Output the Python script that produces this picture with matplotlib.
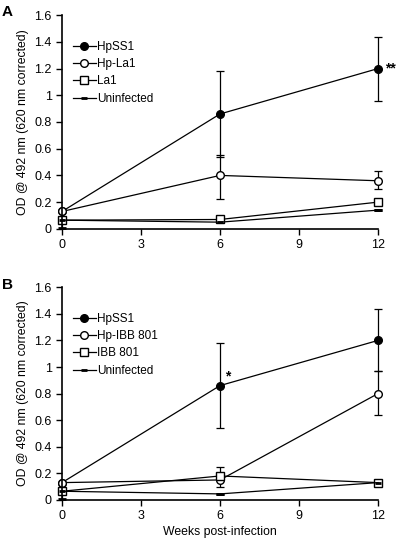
import numpy as np
import matplotlib.pyplot as plt

plt.rcParams['font.family'] = ['Liberation Sans', 'DejaVu Sans']

weeks = [0, 6, 12]

# panel A
a_names = ['HpSS1', 'Hp-La1', 'La1', 'Uninfected']
a_mean = [[0.13, 0.86, 1.20],
          [0.13, 0.40, 0.36],
          [0.065, 0.07, 0.20],
          [0.065, 0.05, 0.14]]
a_lo = [[0.0, 0.32, 0.24],
        [0.0, 0.18, 0.06],
        [0.0, 0.0, 0.02],
        [0.06, 0.0, 0.0]]
a_hi = [[0.0, 0.32, 0.24],
        [0.0, 0.15, 0.07],
        [0.0, 0.0, 0.02],
        [0.0, 0.0, 0.0]]

# panel B
b_names = ['HpSS1', 'Hp-IBB 801', 'IBB 801', 'Uninfected']
b_mean = [[0.13, 0.86, 1.20],
          [0.13, 0.15, 0.80],
          [0.065, 0.18, 0.13],
          [0.065, 0.045, 0.13]]
b_lo = [[0.0, 0.32, 0.23],
        [0.0, 0.0, 0.16],
        [0.0, 0.08, 0.0],
        [0.06, 0.0, 0.0]]
b_hi = [[0.0, 0.32, 0.24],
        [0.0, 0.0, 0.17],
        [0.0, 0.07, 0.0],
        [0.0, 0.0, 0.0]]

styles = [dict(marker='o', mfc='k', ms=5.5),
          dict(marker='o', mfc='white', ms=5.5),
          dict(marker='s', mfc='white', ms=5.5),
          dict(marker='_', mfc='k', ms=5, mew=2)]

fig = plt.figure(figsize=(4, 5.41), dpi=100)

def panel(rect, names, mean, lo, hi, label):
    ax = fig.add_axes(rect)
    handles = []
    for n, m, l, h, st in zip(names, mean, lo, hi, styles):
        c = ax.errorbar(weeks, m, yerr=[l, h], color='k', lw=0.9, elinewidth=0.9,
                        capsize=3, capthick=0.9, mec='k', label=n, **st)
        handles.append(c[0])
    ax.set_xlim(0, 12)
    ax.set_ylim(0, 1.6)
    ax.set_xticks([0, 3, 6, 9, 12])
    ax.set_yticks([0, 0.2, 0.4, 0.6, 0.8, 1, 1.2, 1.4, 1.6])
    ax.set_yticklabels(['0', '0.2', '0.4', '0.6', '0.8', '1', '1.2', '1.4', '1.6'])
    for s in ['top', 'right']:
        ax.spines[s].set_visible(False)
    for s in ['left', 'bottom']:
        ax.spines[s].set_linewidth(1.2)
    ax.tick_params(labelsize=9, length=4, width=1, direction='out')
    ax.set_ylabel('OD @ 492 nm (620 nm corrected)', fontsize=8.8, labelpad=4)
    for line in ax.lines:
        line.set_clip_on(False)
    for c in ax.collections:
        c.set_clip_on(False)
    ax.legend(handles, names, loc='upper left', bbox_to_anchor=(0.0, 0.93),
              frameon=False, fontsize=8.5, handlelength=2.0, handletextpad=0.1,
              labelspacing=0.45, numpoints=1)
    fig.text(0.005, rect[1] + rect[3] + 0.005, label, fontsize=11, fontweight='bold',
             va='center')
    return ax

axA = panel([0.155, 0.577, 0.79, 0.395], a_names, a_mean, a_lo, a_hi, 'A')
axA.text(12.25, 1.20, '**', fontsize=10, fontweight='bold', va='center')

axB = panel([0.155, 0.076, 0.79, 0.393], b_names, b_mean, b_lo, b_hi, 'B')
axB.text(6.2, 0.93, '*', fontsize=10, fontweight='bold', va='center')
axB.set_xlabel('Weeks post-infection', fontsize=8.8, labelpad=3)

fig.savefig('out.png', dpi=100)
